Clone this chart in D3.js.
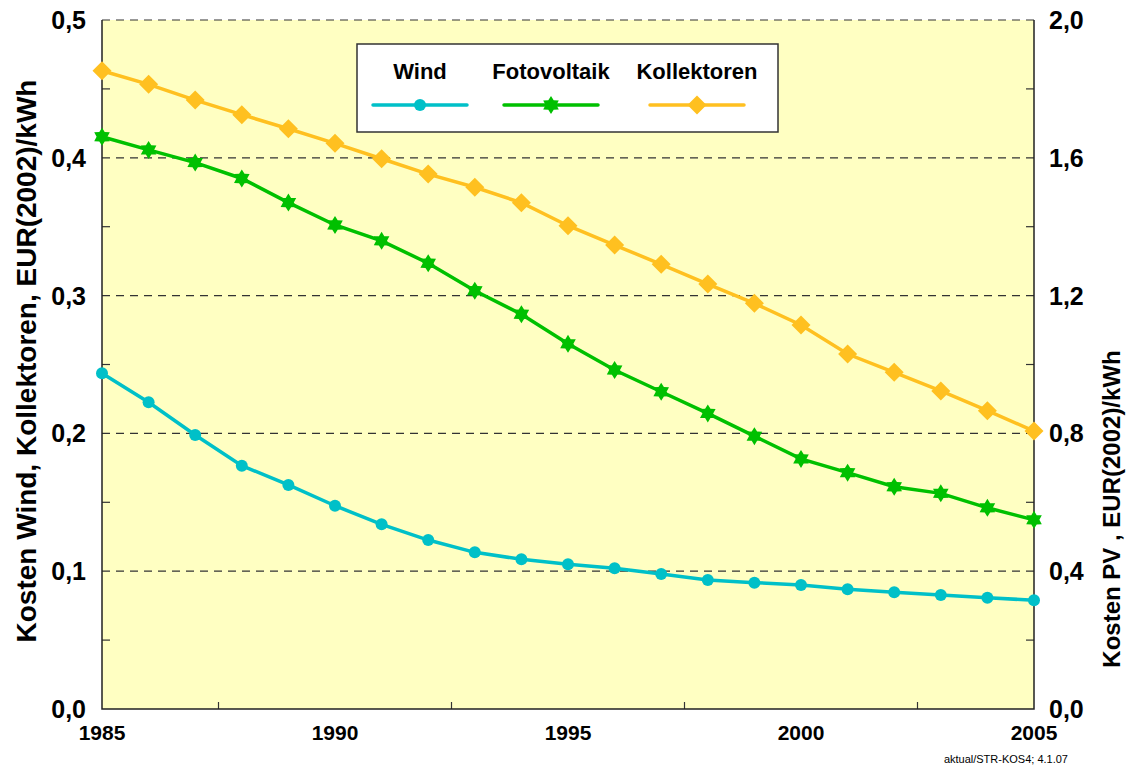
<!DOCTYPE html>
<html>
<head>
<meta charset="utf-8">
<script src="https://cdn.jsdelivr.net/npm/d3@7"></script>
<style>
  body { margin: 0; background: #fff; }
  text { font-family: "Liberation Sans", Arial, sans-serif; }
</style>
</head>
<body>
<div id="chart"></div>
<script>
// chart data
var years = d3.range(1985, 2006);
var wind = [0.2436, 0.2226, 0.1988, 0.1766, 0.1626, 0.1475, 0.134, 0.1226, 0.1137, 0.1086, 0.105,
            0.1021, 0.098, 0.0936, 0.0917, 0.09, 0.0869, 0.0847, 0.0827, 0.0808, 0.0789];
var pv = [1.661, 1.623, 1.586, 1.540, 1.470, 1.405, 1.359, 1.294, 1.214, 1.146, 1.060,
          0.984, 0.921, 0.858, 0.792, 0.726, 0.686, 0.645, 0.626, 0.584, 0.549];
var kollektoren = [0.4632, 0.4533, 0.4419, 0.4313, 0.4211, 0.4105, 0.3993, 0.3882, 0.3786, 0.3674, 0.3507,
                   0.3367, 0.3227, 0.3084, 0.2944, 0.2787, 0.2576, 0.2443, 0.2308, 0.2165, 0.2017];
var leftTicks = [0, 0.1, 0.2, 0.3, 0.4, 0.5];
var rightTicks = [0, 0.4, 0.8, 1.2, 1.6, 2.0];
var xTicks = [1985, 1990, 1995, 2000, 2005];

var width = 1126, height = 766;
var margin = {top: 20, right: 92, bottom: 57, left: 102};
var w = width - margin.left - margin.right,
    h = height - margin.top - margin.bottom;

var svg = d3.select("#chart").append("svg")
    .attr("width", width)
    .attr("height", height);

var g = svg.append("g")
    .attr("transform", "translate(" + margin.left + "," + margin.top + ")");

var x = d3.scaleLinear().domain([1985, 2005]).range([0, w]);
var yL = d3.scaleLinear().domain([0, 0.5]).range([h, 0]);
var yR = d3.scaleLinear().domain([0, 2.0]).range([h, 0]);

var fmt = function(d) { return d3.format(".1f")(d).replace(".", ","); };

// plot background
g.append("rect")
    .attr("width", w)
    .attr("height", h)
    .attr("fill", "#ffffc2");

// dashed grid lines
g.append("g")
    .selectAll("line")
    .data(leftTicks.slice(1))
    .enter()
    .append("line")
    .attr("x1", 0)
    .attr("x2", w)
    .attr("y1", d => yL(d))
    .attr("y2", d => yL(d))
    .attr("stroke", "#333")
    .attr("stroke-width", 1.2)
    .attr("stroke-dasharray", "8,6");

// minor inner ticks
g.append("g")
    .selectAll("line")
    .data(d3.range(0.05, 0.5, 0.1))
    .enter()
    .append("line")
    .attr("x1", 0).attr("x2", 8)
    .attr("y1", d => yL(d)).attr("y2", d => yL(d))
    .attr("stroke", "#333").attr("stroke-width", 1.2);

g.append("g")
    .selectAll("line")
    .data(d3.range(0.2, 2.0, 0.4))
    .enter()
    .append("line")
    .attr("x1", w - 8).attr("x2", w)
    .attr("y1", d => yR(d)).attr("y2", d => yR(d))
    .attr("stroke", "#333").attr("stroke-width", 1.2);

g.append("g")
    .selectAll("line")
    .data(d3.range(1987.5, 2005, 5))
    .enter()
    .append("line")
    .attr("x1", d => x(d)).attr("x2", d => x(d))
    .attr("y1", h - 7).attr("y2", h)
    .attr("stroke", "#333").attr("stroke-width", 1.2);

// frame (left, right, bottom)
g.append("path")
    .attr("d", "M0,0V" + h + "H" + w + "V0")
    .attr("fill", "none")
    .attr("stroke", "#222")
    .attr("stroke-width", 1.5);

// axis labels
g.append("g")
    .selectAll("text")
    .data(leftTicks)
    .enter()
    .append("text")
    .attr("x", -16)
    .attr("y", d => yL(d))
    .attr("dy", "0.36em")
    .attr("text-anchor", "end")
    .style("font-size", "25px")
    .style("font-weight", "bold")
    .text(fmt);

g.append("g")
    .selectAll("text")
    .data(rightTicks)
    .enter()
    .append("text")
    .attr("x", w + 15)
    .attr("y", d => yR(d))
    .attr("dy", "0.36em")
    .attr("text-anchor", "start")
    .style("font-size", "25px")
    .style("font-weight", "bold")
    .text(fmt);

g.append("g")
    .selectAll("text")
    .data(xTicks)
    .enter()
    .append("text")
    .attr("x", d => x(d))
    .attr("y", h + 31)
    .attr("text-anchor", "middle")
    .style("font-size", "21px")
    .style("font-weight", "bold")
    .text(d => d);

svg.append("text")
    .attr("transform", "translate(36,361)rotate(-90)")
    .attr("text-anchor", "middle")
    .style("font-size", "28px")
    .style("font-weight", "bold")
    .text("Kosten Wind, Kollektoren, EUR(2002)/kWh");

svg.append("text")
    .attr("transform", "translate(1120,509)rotate(-90)")
    .attr("text-anchor", "middle")
    .style("font-size", "24px")
    .style("font-weight", "bold")
    .text("Kosten PV , EUR(2002)/kWh");

svg.append("text")
    .attr("x", 1068)
    .attr("y", 763)
    .attr("text-anchor", "end")
    .style("font-size", "11px")
    .text("aktual/STR-KOS4; 4.1.07");

// series
var series = [
    {name: "Wind", values: wind, y: yL, color: "#00c0c8", symbol: "circle", size: 6},
    {name: "Fotovoltaik", values: pv, y: yR, color: "#00c000", symbol: "star6", size: 9},
    {name: "Kollektoren", values: kollektoren, y: yL, color: "#ffc020", symbol: "diamond", size: 9.5}
];

// six pointed star path
function star6(r) {
    var pts = [];
    for (var i = 0; i < 12; i++) {
        var a = Math.PI / 6 * i - Math.PI / 2;
        var rr = i % 2 === 0 ? r : r * 0.6;
        pts.push([rr * Math.cos(a), rr * Math.sin(a)]);
    }
    return "M" + pts.join("L") + "Z";
}

function markerPath(s) {
    var r = s.size;
    if (s.symbol === "star6") return star6(r);
    if (s.symbol === "diamond") return "M0," + (-r) + "L" + r + ",0L0," + r + "L" + (-r) + ",0Z";
    return "M" + r + ",0A" + r + "," + r + " 0 1,1 " + (-r) + ",0A" + r + "," + r + " 0 1,1 " + r + ",0Z";
}

var line = d3.line();

series.forEach(function(s) {
    var pts = years.map((yr, i) => [x(yr), s.y(s.values[i])]);
    g.append("path")
        .attr("d", line(pts))
        .attr("fill", "none")
        .attr("stroke", s.color)
        .attr("stroke-width", 3.5);
    g.append("g")
        .selectAll("path")
        .data(pts)
        .enter()
        .append("path")
        .attr("transform", d => "translate(" + d[0] + "," + d[1] + ")")
        .attr("d", markerPath(s))
        .attr("fill", s.color);
});

// legend
var legend = svg.append("g").attr("transform", "translate(357,44)");
legend.append("rect")
    .attr("width", 421)
    .attr("height", 88)
    .attr("fill", "#fff")
    .attr("stroke", "#333")
    .attr("stroke-width", 1.5);

var legendX = [63, 194, 340];
series.forEach(function(s, i) {
    var lg = legend.append("g").attr("transform", "translate(" + legendX[i] + ",0)");
    lg.append("text")
        .attr("x", 0)
        .attr("y", 35)
        .attr("text-anchor", "middle")
        .style("font-size", "22px")
        .style("font-weight", "bold")
        .text(s.name);
    lg.append("line")
        .attr("x1", -47).attr("x2", 47)
        .attr("y1", 61).attr("y2", 61)
        .attr("stroke", s.color)
        .attr("stroke-width", 3.5)
        .attr("stroke-linecap", "round");
    lg.append("path")
        .attr("transform", "translate(0,61)")
        .attr("d", markerPath(s))
        .attr("fill", s.color);
});
</script>
</body>
</html>
